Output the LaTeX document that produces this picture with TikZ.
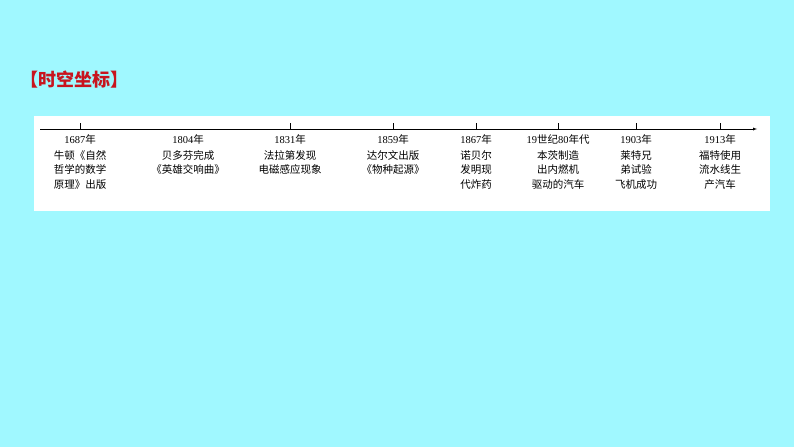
\documentclass[tikz,border=0pt]{standalone}
\usepackage{fontspec}
\newfontfamily\cjk{Noto Sans CJK SC}
\setmainfont{Liberation Serif}
\begin{document}
\begin{tikzpicture}[x=1pt,y=-1pt,
  lab/.style={font=\cjk\fontsize{10.5}{14.5}\selectfont,align=center,anchor=north,inner sep=0pt},
  yr/.style={font=\fontsize{10.5}{12}\selectfont,anchor=north,inner sep=0pt}]
\definecolor{bg}{RGB}{160,248,255}
\definecolor{ttl}{RGB}{200,20,30}
\fill[bg] (0,0) rectangle (794,447);
\useasboundingbox (0,0) rectangle (794,447);
\fill[white] (34,116) rectangle (770,211);
\node[font=\cjk\bfseries\fontsize{18}{18}\selectfont,text=ttl,anchor=west,inner sep=0pt] (title) at (20,80) {【时空坐标】};
\coordinate (a0) at (40,129);
\coordinate (a1) at (757,129);
\draw[-latex] (a0) -- (a1);
\foreach \x/\y/\t [count=\i] in {80/{1687{\cjk 年}}/{牛顿《自然\\哲学的数学\\原理》出版},
  188/{1804{\cjk 年}}/{贝多芬完成\\《英雄交响曲》},
  290/{1831{\cjk 年}}/{法拉第发现\\电磁感应现象},
  393/{1859{\cjk 年}}/{达尔文出版\\《物种起源》},
  476/{1867{\cjk 年}}/{诺贝尔\\发明现\\代炸药},
  558/{19{\cjk 世纪}80{\cjk 年代}}/{本茨制造\\出内燃机\\驱动的汽车},
  636/{1903{\cjk 年}}/{莱特兄\\弟试验\\飞机成功},
  720/{1913{\cjk 年}}/{福特使用\\流水线生\\产汽车}}{
  \ifnum\i=2\else\draw (\x,129) -- (\x,123);\fi
  \node[yr] (y\i) at (\x,134) {\y};
  \node[lab] (t\i) at (\x,150) {\t};
}
\end{tikzpicture}
\end{document}
